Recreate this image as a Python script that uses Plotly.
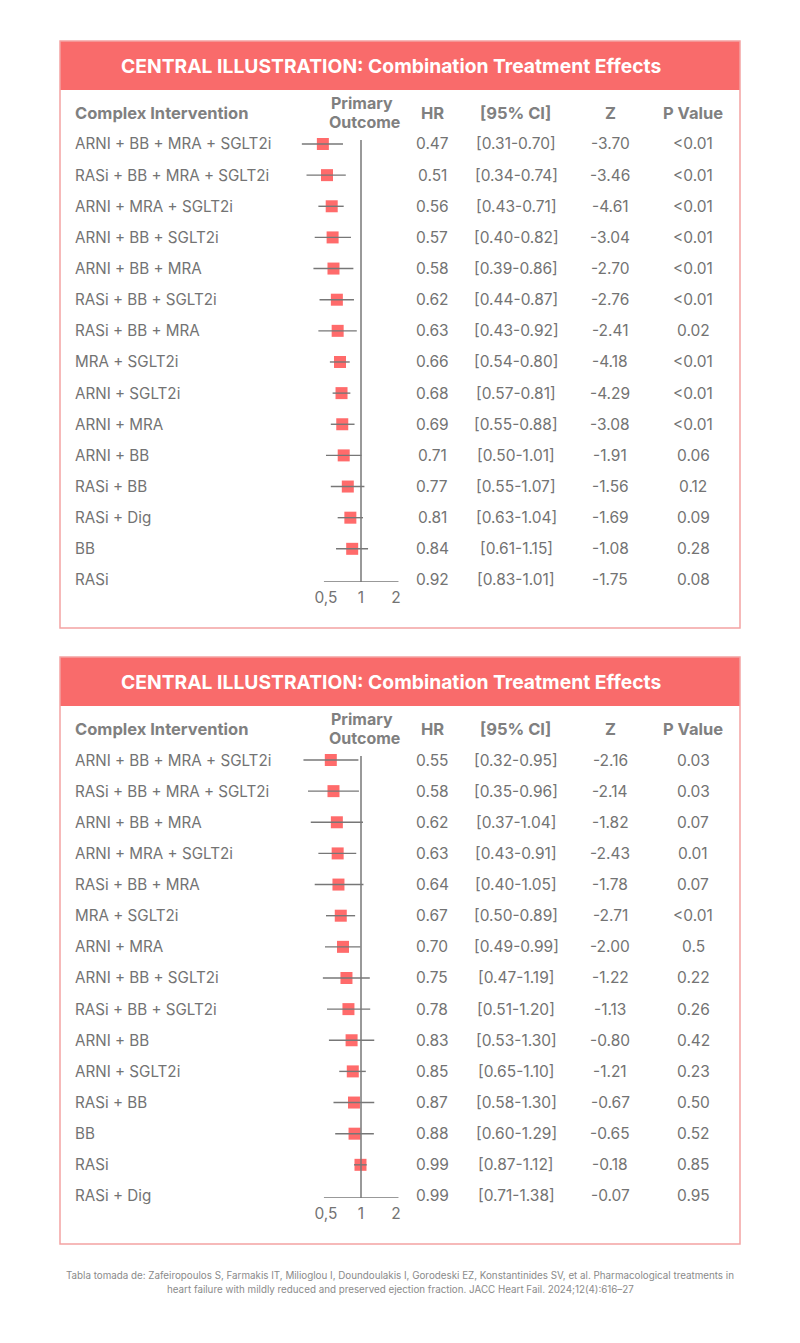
import plotly.graph_objects as go

W, H = 800, 1343

# ---------------- data ----------------
title_text = "CENTRAL ILLUSTRATION: Combination Treatment Effects"
col_headers = ["Complex Intervention", "HR", "[95% CI]", "Z", "P Value"]
tick_vals = [0.5, 1, 2]
tick_text = ["0,5", "1", "2"]

labels1 = ["ARNI + BB + MRA + SGLT2i", "RASi + BB + MRA + SGLT2i", "ARNI + MRA + SGLT2i",
           "ARNI + BB + SGLT2i", "ARNI + BB + MRA", "RASi + BB + SGLT2i", "RASi + BB + MRA",
           "MRA + SGLT2i", "ARNI + SGLT2i", "ARNI + MRA", "ARNI + BB", "RASi + BB",
           "RASi + Dig", "BB", "RASi"]
hr1 = [0.47, 0.51, 0.56, 0.57, 0.58, 0.62, 0.63, 0.66, 0.68, 0.69, 0.71, 0.77, 0.81, 0.84, 0.92]
lo1 = [0.31, 0.34, 0.43, 0.40, 0.39, 0.44, 0.43, 0.54, 0.57, 0.55, 0.50, 0.55, 0.63, 0.61, 0.83]
hi1 = [0.70, 0.74, 0.71, 0.82, 0.86, 0.87, 0.92, 0.80, 0.81, 0.88, 1.01, 1.07, 1.04, 1.15, 1.01]
z1 = [-3.70, -3.46, -4.61, -3.04, -2.70, -2.76, -2.41, -4.18, -4.29, -3.08, -1.91, -1.56, -1.69, -1.08, -1.75]
p1 = ["<0.01", "<0.01", "<0.01", "<0.01", "<0.01", "<0.01", "0.02", "<0.01", "<0.01", "<0.01",
      "0.06", "0.12", "0.09", "0.28", "0.08"]

labels2 = ["ARNI + BB + MRA + SGLT2i", "RASi + BB + MRA + SGLT2i", "ARNI + BB + MRA",
           "ARNI + MRA + SGLT2i", "RASi + BB + MRA", "MRA + SGLT2i", "ARNI + MRA",
           "ARNI + BB + SGLT2i", "RASi + BB + SGLT2i", "ARNI + BB", "ARNI + SGLT2i",
           "RASi + BB", "BB", "RASi", "RASi + Dig"]
hr2 = [0.55, 0.58, 0.62, 0.63, 0.64, 0.67, 0.70, 0.75, 0.78, 0.83, 0.85, 0.87, 0.88, 0.99, 0.99]
lo2 = [0.32, 0.35, 0.37, 0.43, 0.40, 0.50, 0.49, 0.47, 0.51, 0.53, 0.65, 0.58, 0.60, 0.87, 0.71]
hi2 = [0.95, 0.96, 1.04, 0.91, 1.05, 0.89, 0.99, 1.19, 1.20, 1.30, 1.10, 1.30, 1.29, 1.12, 1.38]
z2 = [-2.16, -2.14, -1.82, -2.43, -1.78, -2.71, -2.00, -1.22, -1.13, -0.80, -1.21, -0.67, -0.65, -0.18, -0.07]
p2 = ["0.03", "0.03", "0.07", "0.01", "0.07", "<0.01", "0.5", "0.22", "0.26", "0.42", "0.23",
      "0.50", "0.52", "0.85", "0.95"]

footer1 = ("Tabla tomada de: Zafeiropoulos S, Farmakis IT, Milioglou I, Doundoulakis I, Gorodeski EZ, "
           "Konstantinides SV, et al. Pharmacological treatments in")
footer2 = "heart failure with mildly reduced and preserved ejection fraction. JACC Heart Fail. 2024;12(4):616\u201327"

AXIS_MIN, AXIS_MAX = 0.48, 2.1

# ---------------- style ----------------
FONT = "Inter"
CORAL = "#F96B6B"
BORDER = "#F4A3A3"
GRAY_H = "#808080"
GRAY_T = "#737373"
LINE_G = "#777777"


def px(x):
    return x / W


def py(y):
    return 1 - y / H


def ann(text, x, y, yref="paper", xanchor="center", size=15, color=GRAY_T):
    return dict(text=text, xref="paper", yref=yref, x=x, y=y, xanchor=xanchor, yanchor="middle",
                showarrow=False, font=dict(family=FONT, size=size, color=color))


fig = go.Figure()
annotations = []
shapes = []

panels = [(labels1, hr1, lo1, hi1, z1, p1), (labels2, hr2, lo2, hi2, z2, p2)]
OFF = 616
ROW0, ROWSTEP = 144, 31.14

for k, (labs, hr, lo, hi, zz, pp) in enumerate(panels):
    o = OFF * k
    xa = "x" if k == 0 else "x2"
    ya = "y" if k == 0 else "y2"
    n = len(labs)
    top_px, bot_px = 128 + o, 582 + o
    i_top = (top_px - (ROW0 + o)) / ROWSTEP
    i_bot = (bot_px - (ROW0 + o)) / ROWSTEP

    # panel frame and header
    shapes.append(dict(type="rect", xref="paper", yref="paper", x0=px(60), x1=px(740),
                       y0=py(41 + o), y1=py(90 + o), fillcolor=CORAL, line=dict(width=0), layer="below"))
    shapes.append(dict(type="rect", xref="paper", yref="paper", x0=px(60), x1=px(740),
                       y0=py(41 + o), y1=py(628 + o), line=dict(color=BORDER, width=1.5)))
    annotations.append(ann("<b>%s</b>" % title_text, px(391), py(66 + o), size=19.3, color="white"))

    # column headers
    hdr_y = py(113 + o)
    annotations.append(ann("<b>%s</b>" % col_headers[0], px(73), hdr_y, xanchor="left", size=16.5, color=GRAY_H))
    annotations.append(ann("<b>Primary</b>", px(362), py(103 + o), size=16, color=GRAY_H))
    annotations.append(ann("<b>Outcome</b>", px(364), py(122 + o), size=16, color=GRAY_H))
    for txt, cx in zip(col_headers[1:], [432, 515, 610, 693]):
        annotations.append(ann("<b>%s</b>" % txt, px(cx), hdr_y, size=16.5, color=GRAY_H))

    # row texts
    for i in range(n):
        cells = [("%.2f" % hr[i], 432), ("[%.2f-%.2f]" % (lo[i], hi[i]), 516),
                 ("%.2f" % zz[i], 610), (pp[i], 693)]
        annotations.append(ann(labs[i], px(73), i, yref=ya, xanchor="left", size=15.2))
        for txt, cx in cells:
            annotations.append(ann(txt, px(cx), i, yref=ya, size=15.5))

    # forest marks (last row drawn without marker, as in the original)
    m = n - 1
    ys = list(range(m))
    fig.add_trace(go.Scatter(x=hr[:m], y=ys, mode="markers", xaxis=xa, yaxis=ya,
                             marker=dict(symbol="square", size=12, color="#FF6B6B", line=dict(width=0)),
                             hoverinfo="skip", showlegend=False))
    fig.add_trace(go.Scatter(x=hr[:m], y=ys, mode="markers", xaxis=xa, yaxis=ya,
                             marker=dict(size=1, color="rgba(0,0,0,0)"),
                             error_x=dict(type="data", symmetric=False,
                                          array=[hi[i] - hr[i] for i in range(m)],
                                          arrayminus=[hr[i] - lo[i] for i in range(m)],
                                          color=LINE_G, thickness=1.4, width=0),
                             hoverinfo="skip", showlegend=False))

    # reference line at 1 and baseline
    shapes.append(dict(type="line", xref=xa, yref=ya, x0=1, x1=1, y0=-0.13, y1=i_bot,
                       line=dict(color=LINE_G, width=1.5)))
    shapes.append(dict(type="line", xref=xa, yref=ya, x0=AXIS_MIN, x1=AXIS_MAX, y0=i_bot, y1=i_bot,
                       line=dict(color=LINE_G, width=1.5)))

    xdom = [px(280), px(410)]
    xaxis = dict(type="log", domain=xdom, range=[(280 - 361) / 116.3, (410 - 361) / 116.3],
                 tickvals=tick_vals, ticktext=tick_text, showgrid=False, zeroline=False,
                 showline=False, ticks="", tickfont=dict(family=FONT, size=15.5, color=GRAY_T),
                 ticklabelstandoff=4, anchor=ya, fixedrange=True)
    yaxis = dict(domain=[py(bot_px), py(top_px)], range=[i_bot, i_top], visible=False,
                 anchor=xa, fixedrange=True)
    if k == 0:
        fig.update_layout(xaxis=xaxis, yaxis=yaxis)
    else:
        fig.update_layout(xaxis2=xaxis, yaxis2=yaxis)

annotations.append(ann(footer1, 0.5, py(1275), size=9.8, color="#8a8a8a"))
annotations.append(ann(footer2, 0.5, py(1289), size=9.8, color="#8a8a8a"))

fig.update_layout(width=W, height=H, margin=dict(l=0, r=0, t=0, b=0),
                  paper_bgcolor="white", plot_bgcolor="rgba(0,0,0,0)",
                  annotations=annotations, shapes=shapes, showlegend=False)

fig.write_html("out.html")
